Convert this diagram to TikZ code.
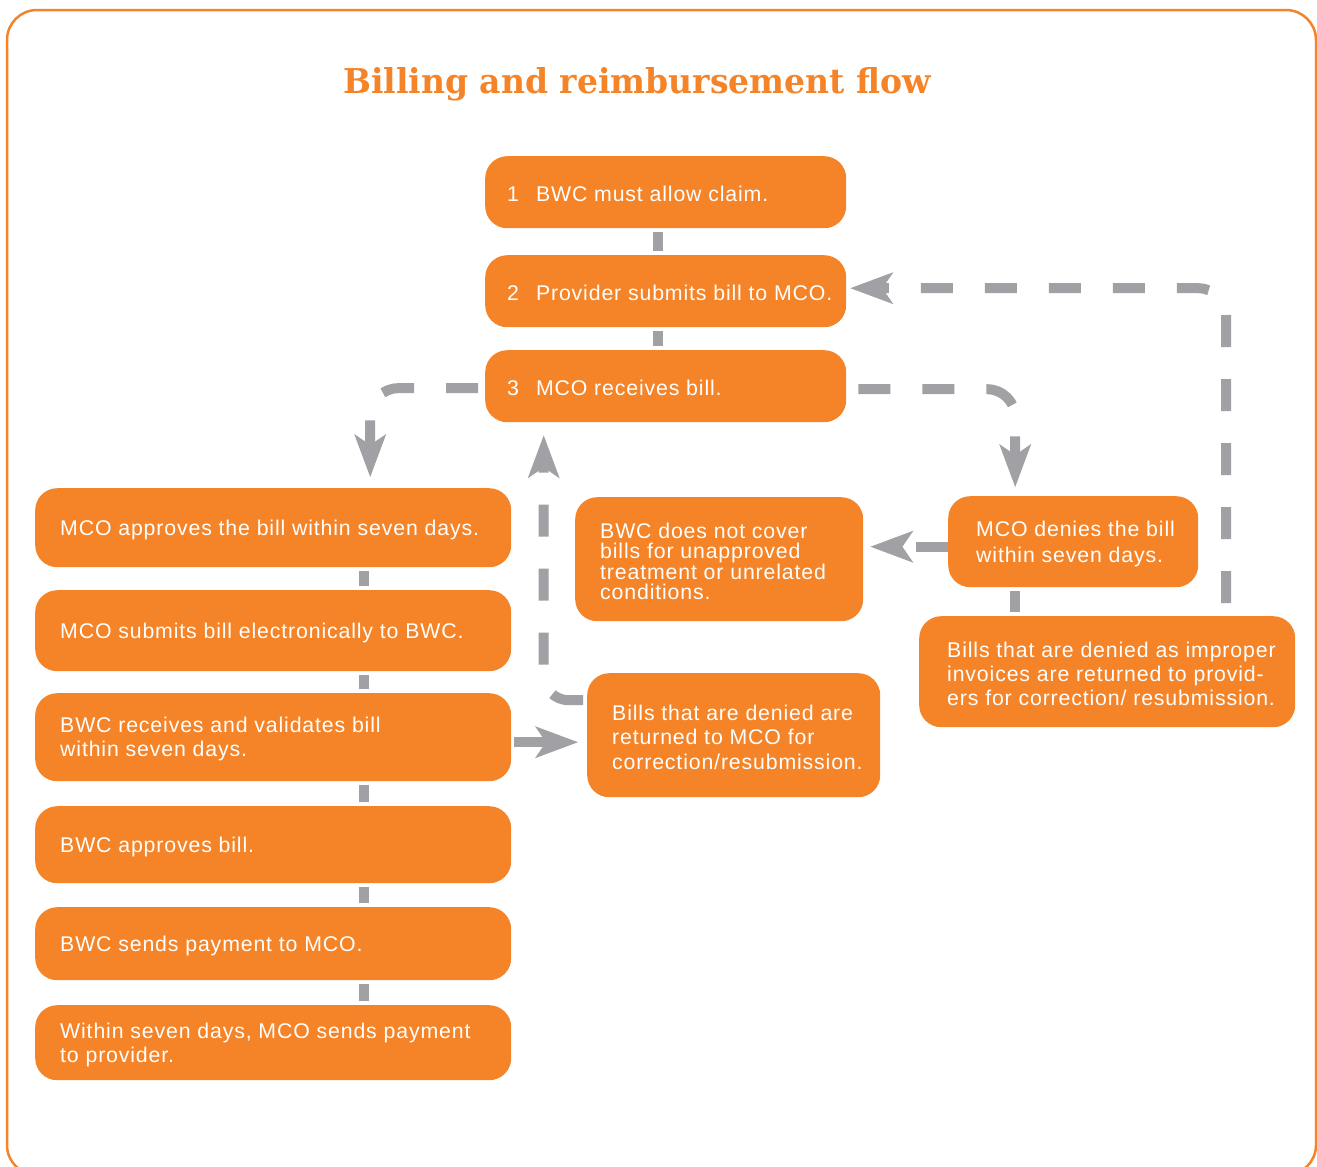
\documentclass[tikz,border=0pt]{standalone}
\usepackage{fontspec}
\setmainfont{Liberation Sans}[LetterSpace=4]
\newfontfamily\titlefont{DejaVu Serif}
\usetikzlibrary{arrows.meta}
\definecolor{org}{HTML}{F58428}
\definecolor{gry}{HTML}{A0A0A5}
\begin{document}
\begin{tikzpicture}[x=1pt,y=-1pt,
 box/.style={fill=org, rounded corners=22pt, inner sep=0pt, anchor=north west},
 txt/.style={text=white, align=left, inner sep=0pt, anchor=west, yshift=-2pt, font=\fontsize{21.3}{24}\selectfont},
 flow/.style={draw=gry, line width=10pt, dash pattern=on 32pt off 32pt},
 tip/.style={-{Stealth[length=43pt,width=32pt,inset=11pt,line width=0pt]}},
 link/.style={draw=gry, line width=10pt, shorten <=4pt, shorten >=4pt}]
\useasboundingbox (0,0) rectangle (1317,1167);
\begin{scope}
\clip (0,0) rectangle (1317,1167);
\draw[org, line width=2.5pt, rounded corners=30pt] (7,10) rectangle (1316,1175);
\end{scope}

\node[anchor=base west, inner sep=0pt, text=org] (title) at (343,93)
  {\resizebox{588pt}{26pt}{\titlefont\bfseries Billing and reimbursement flow}};

% boxes
\node[box, minimum width=361pt, minimum height=72pt] (b1) at (485,156) {};
\node[box, minimum width=361pt, minimum height=72pt] (b2) at (485,255) {};
\node[box, minimum width=361pt, minimum height=72pt] (b3) at (485,350) {};
\node[box, minimum width=476pt, minimum height=79pt] (l1) at (35,488) {};
\node[box, minimum width=476pt, minimum height=81pt] (l2) at (35,590) {};
\node[box, minimum width=476pt, minimum height=88pt] (l3) at (35,693) {};
\node[box, minimum width=476pt, minimum height=77pt] (l4) at (35,806) {};
\node[box, minimum width=476pt, minimum height=73pt] (l5) at (35,907) {};
\node[box, minimum width=476pt, minimum height=75pt] (l6) at (35,1005) {};
\node[box, minimum width=288pt, minimum height=124pt] (m1) at (575,497) {};
\node[box, minimum width=250pt, minimum height=91pt] (r1) at (948,496) {};
\node[box, minimum width=376pt, minimum height=111pt] (r2) at (919,616) {};
\node[box, minimum width=293pt, minimum height=124pt] (m2) at (587,673) {};

% texts
\node[txt] (tb1) at ([xshift=22pt]b1.west) {1\hspace{17pt}BWC must allow claim.};
\node[txt] (tb2) at ([xshift=22pt]b2.west) {2\hspace{17pt}Provider submits bill to MCO.};
\node[txt] (tb3) at ([xshift=22pt]b3.west) {3\hspace{17pt}MCO receives bill.};
\node[txt] (tl1) at ([xshift=25pt]l1.west) {MCO approves the bill within seven days.};
\node[txt] (tl2) at ([xshift=25pt]l2.west) {MCO submits bill electronically to BWC.};
\node[txt] (tl3) at ([xshift=25pt]l3.west) {BWC receives and validates bill\\within seven days.};
\node[txt] (tl4) at ([xshift=25pt]l4.west) {BWC approves bill.};
\node[txt] (tl5) at ([xshift=25pt]l5.west) {BWC sends payment to MCO.};
\node[txt] (tl6) at ([xshift=25pt]l6.west) {Within seven days, MCO sends payment\\to provider.};
\node[txt, font=\fontsize{21.3}{20.5}\selectfont] (tm1) at ([xshift=25pt]m1.west) {BWC does not cover\\bills for unapproved\\treatment or unrelated\\conditions.};
\node[txt, font=\fontsize{21.3}{26}\selectfont] (tr1) at ([xshift=28pt]r1.west) {MCO denies the bill\\within seven days.};
\node[txt] (tr2) at ([xshift=28pt]r2.west) {Bills that are denied as improper\\invoices are returned to provid-\\ers for correction/ resubmission.};
\node[txt, font=\fontsize{21.3}{24.5}\selectfont] (tm2) at ([xshift=25pt]m2.west) {Bills that are denied are\\returned to MCO for\\correction/resubmission.};

% solid short links
\draw[link] ([xshift=-8pt]b1.south) -- ([xshift=-8pt]b2.north);
\draw[link] ([xshift=-8pt]b2.south) -- ([xshift=-8pt]b3.north);
\draw[link] ([xshift=91pt]l1.south) -- ([xshift=91pt]l2.north);
\draw[link] ([xshift=91pt]l2.south) -- ([xshift=91pt]l3.north);
\draw[link] ([xshift=91pt]l3.south) -- ([xshift=91pt]l4.north);
\draw[link] ([xshift=91pt]l4.south) -- ([xshift=91pt]l5.north);
\draw[link] ([xshift=91pt]l5.south) -- ([xshift=91pt]l6.north);
\coordinate (rs) at ([xshift=-58pt]r1.south);
\draw[link] (rs) -- (rs |- r2.north);

% dashed arrows
\draw[flow, tip, rounded corners=28pt, shorten <=7pt] ([yshift=-2pt]b3.west) -| ([xshift=97pt,yshift=11pt]l1.north);
\draw[flow, tip, rounded corners=28pt, shorten <=12pt] ([yshift=-3pt]b3.east) -| ([xshift=-58pt,yshift=9pt]r1.north);
\coordinate (ra) at ([yshift=-5pt]r1.west);
\draw[flow, tip, shorten >=7pt] (ra) -- (ra -| m1.east);
\coordinate (rt) at ([xshift=119pt]r2.north);
\draw[flow, tip, rounded corners=28pt, shorten <=13pt, shorten >=4pt] (rt) |- ([yshift=3pt]b2.east);
\draw[flow, tip, rounded corners=25pt, shorten <=4pt] ([yshift=35pt]m2.west) -| ([xshift=-122pt,yshift=-13pt]b3.south);
\coordinate (la) at ([yshift=-5pt]l3.east);
\draw[flow, tip, shorten <=3pt, shorten >=9pt] (la) -- (la -| m2.west);
\end{tikzpicture}
\end{document}
